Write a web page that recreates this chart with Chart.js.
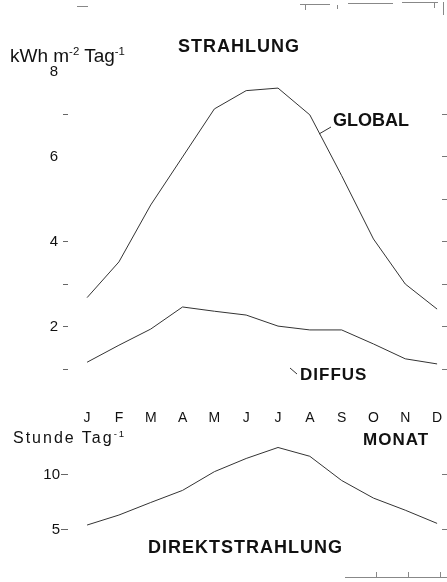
<!DOCTYPE html>
<html>
<head>
<meta charset="utf-8">
<script src="https://cdn.jsdelivr.net/npm/chart.js"></script>
<style>
  body { margin: 0; background: #fff; }
  #wrap { position: relative; width: 447px; height: 582px; overflow: hidden;
          font-family: 'Liberation Sans', Arial, sans-serif; color: #111; }
  canvas { position: absolute; left: 0; }
  svg { position: absolute; left: 0; top: 0; pointer-events: none; }
  .t { position: absolute; line-height: 1; white-space: nowrap; }
  .b { font-weight: bold; }
  sup { font-size: 0.6em; vertical-align: 0.6em; line-height: 0; }
</style>
</head>
<body>
<div id="wrap">
  <canvas id="upper" width="447" height="430" style="top:0"></canvas>
  <canvas id="lower" width="447" height="152" style="top:430px"></canvas>

  <svg width="447" height="582">
    <g stroke="#888" stroke-width="1" fill="none">
      <!-- remains of the frame, as in the scan -->
      <line x1="77" y1="6.5" x2="88" y2="6.5"/>
      <line x1="300" y1="4.5" x2="330" y2="4.5"/>
      <line x1="305.5" y1="4" x2="305.5" y2="10"/>
      <line x1="337.5" y1="5" x2="337.5" y2="9"/>
      <line x1="348" y1="3.5" x2="393" y2="3.5"/>
      <line x1="402" y1="2.5" x2="438" y2="2.5"/>
      <line x1="434.5" y1="2" x2="434.5" y2="8"/>
      <line x1="443.5" y1="2" x2="443.5" y2="15"/>
      <line x1="345" y1="577.5" x2="447" y2="577.5"/>
      <line x1="376.5" y1="572" x2="376.5" y2="578"/>
      <line x1="408.5" y1="572" x2="408.5" y2="578"/>
      <line x1="440.5" y1="572" x2="440.5" y2="578"/>
    </g>
    <g stroke="#333" stroke-width="1">
      <line x1="331" y1="127" x2="319" y2="134"/>
      <line x1="290" y1="368" x2="297" y2="374"/>
    </g>
  </svg>

  <div class="t" style="left:10px;top:46px;font-size:19px;">kWh m<sup>-2</sup> Tag<sup>-1</sup></div>
  <div class="t b" style="left:178px;top:37px;font-size:18px;letter-spacing:1px;">STRAHLUNG</div>
  <div class="t b" style="left:333px;top:111px;font-size:18px;">GLOBAL</div>
  <div class="t b" style="left:300px;top:366px;font-size:17px;letter-spacing:1px;">DIFFUS</div>
  <div class="t" style="left:13px;top:430px;font-size:16px;letter-spacing:2px;">Stunde Tag<sup>-1</sup></div>
  <div class="t b" style="left:363px;top:431px;font-size:17px;letter-spacing:1px;">MONAT</div>
  <div class="t b" style="left:148px;top:538px;font-size:18px;letter-spacing:1px;">DIREKTSTRAHLUNG</div>
</div>

<script>
// Monatswerte
var months = ['J', 'F', 'M', 'A', 'M', 'J', 'J', 'A', 'S', 'O', 'N', 'D'];
var globalValues = [2.68, 3.52, 4.86, 5.99, 7.12, 7.55, 7.61, 6.98, 5.55, 4.06, 3.0, 2.41];
var diffusValues = [1.16, 1.56, 1.94, 2.46, 2.36, 2.27, 2.01, 1.92, 1.92, 1.59, 1.24, 1.12];
var direktValues = [5.45, 6.36, 7.5, 8.6, 10.3, 11.5, 12.5, 11.7, 9.5, 7.9, 6.8, 5.6];
var upperTickValues = [1, 2, 3, 4, 5, 6, 7, 8];
var upperTickLabels = [2, 4, 6, 8];
var upperNoMark = [5, 6, 8];
var lowerTickValues = [5, 10];

Chart.defaults.font.family = "'Liberation Sans', Arial, sans-serif";
Chart.defaults.color = '#111';

function points(values) {
  return values.map(function (v, i) { return { x: i, y: v }; });
}

function fixedTicks(values) {
  return function (scale) {
    scale.ticks = values.map(function (v) { return { value: v }; });
  };
}

function line(values) {
  return {
    data: points(values),
    borderColor: '#333',
    borderWidth: 1,
    pointRadius: 0,
    tension: 0,
    fill: false
  };
}

var xMin = -0.6, xMax = 11.154;

new Chart(document.getElementById('upper'), {
  type: 'line',
  data: { datasets: [line(globalValues), line(diffusValues)] },
  options: {
    responsive: false,
    animation: false,
    layout: { padding: { top: 54, left: 0, right: 0, bottom: 0 } },
    plugins: { legend: { display: false }, tooltip: { enabled: false } },
    scales: {
      x: {
        type: 'linear',
        min: xMin,
        max: xMax,
        afterBuildTicks: fixedTicks(months.map(function (m, i) { return i; })),
        afterFit: function (s) { s.height = 22; },
        grid: { display: false, drawTicks: false },
        border: { display: false },
        ticks: {
          autoSkip: false,
          maxRotation: 0,
          padding: 2,
          font: { size: 14 },
          callback: function (v) { return months[v]; }
        }
      },
      y: {
        min: 0.083,
        max: 8.412,
        afterBuildTicks: fixedTicks(upperTickValues),
        afterFit: function (s) { s.width = 68; },
        grid: {
          drawOnChartArea: false,
          tickLength: 5,
          color: '#666',
          tickColor: function (ctx) {
            return ctx.tick && upperNoMark.indexOf(ctx.tick.value) >= 0 ? 'rgba(0,0,0,0)' : '#666';
          }
        },
        border: { display: false },
        ticks: {
          padding: 5,
          font: { size: 15 },
          callback: function (v) { return upperTickLabels.indexOf(v) >= 0 ? String(v) : ''; }
        }
      },
      y2: {
        position: 'right',
        min: 0.083,
        max: 8.412,
        afterBuildTicks: fixedTicks(upperTickValues.slice(0, 7)),
        afterFit: function (s) { s.width = 5; },
        grid: { drawOnChartArea: false, tickLength: 5, color: '#777' },
        border: { display: false },
        ticks: { display: false }
      }
    }
  }
});

new Chart(document.getElementById('lower'), {
  type: 'line',
  data: { datasets: [line(direktValues)] },
  options: {
    responsive: false,
    animation: false,
    layout: { padding: { top: 10, left: 0, right: 0, bottom: 12 } },
    plugins: { legend: { display: false }, tooltip: { enabled: false } },
    scales: {
      x: { type: 'linear', min: xMin, max: xMax, display: false },
      y: {
        min: 1.364,
        max: 13.18,
        afterBuildTicks: fixedTicks(lowerTickValues),
        afterFit: function (s) { s.width = 68; },
        grid: { drawOnChartArea: false, tickLength: 7, color: '#666' },
        border: { display: false },
        ticks: { padding: 1, font: { size: 15 } }
      },
      y2: {
        position: 'right',
        min: 1.364,
        max: 13.18,
        afterBuildTicks: fixedTicks(lowerTickValues),
        afterFit: function (s) { s.width = 5; },
        grid: { drawOnChartArea: false, tickLength: 5, color: '#777' },
        border: { display: false },
        ticks: { display: false }
      }
    }
  }
});
</script>
</body>
</html>
